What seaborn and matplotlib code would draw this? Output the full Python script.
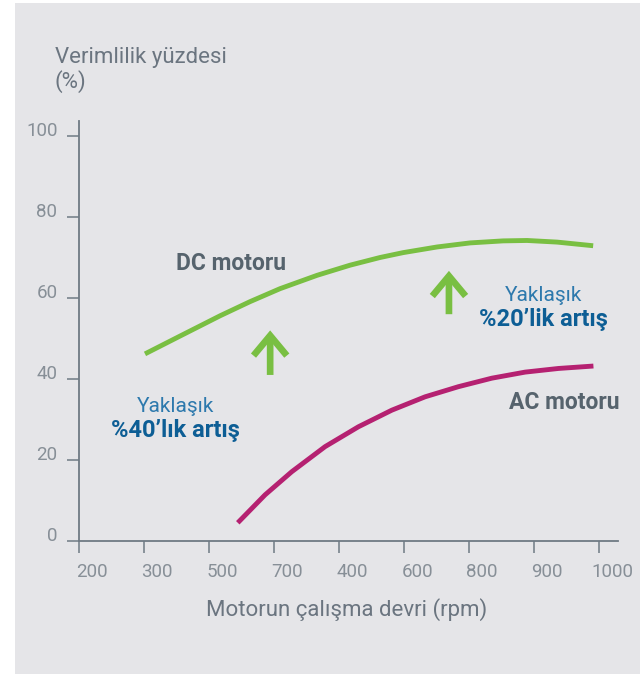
import matplotlib.pyplot as plt
import pandas as pd
import seaborn as sns
from matplotlib.transforms import ScaledTranslation
from matplotlib.patches import Rectangle

# tick labels as printed (the axis is categorical, not numeric)
RPM_LABELS = ["200", "300", "500", "700", "400", "600", "800", "900", "1000"]
Y_TICKS = [0, 20, 40, 60, 80, 100]

# curves, x in category-slot units
DC_X = [1.015, 1.554, 2.169, 2.631, 3.092, 3.662, 4.169, 4.631, 4.985, 5.508, 6.015, 6.523,
        6.892, 7.354, 7.908]
DC_Y = [46.2, 50.6, 55.6, 59.1, 62.3, 65.6, 68.1, 70.0, 71.2, 72.6, 73.6, 74.1, 74.2, 73.8,
        72.9]
AC_X = [2.442, 2.862, 3.272, 3.785, 4.297, 4.811, 5.323, 5.835, 6.349, 6.862, 7.374, 7.912]
AC_Y = [4.5, 11.4, 17.1, 23.3, 28.2, 32.3, 35.6, 38.1, 40.2, 41.7, 42.6, 43.2]

# increase arrows: x, y_base, y_tip
ARROWS = [(2.94, 41.0, 52.0), (5.69, 56.0, 66.7)]

BG = "#e5e5e8"
AXIS_GRAY = "#6f7a84"
GREEN = "#79bf42"
MAGENTA = "#b52171"
BLUE_LIGHT = "#2d79ad"
BLUE_DARK = "#0d5e95"
LABEL_DARK = "#56636d"

sns.set_theme(style="ticks")
plt.rcParams["font.family"] = ["Roboto", "DejaVu Sans"]

fig = plt.figure(figsize=(6.4, 6.74), dpi=100, facecolor="white")
fig.patches.append(Rectangle((15 / 640, 0), 1, 1 - 3 / 674, transform=fig.transFigure,
                             facecolor=BG, edgecolor="none", zorder=-10))
ax = fig.add_axes([79 / 640, 133 / 674, 539 / 640, 420 / 674])
ax.set_facecolor("none")

curves = pd.concat([
    pd.DataFrame({"x": DC_X, "y": DC_Y, "motor": "DC"}),
    pd.DataFrame({"x": AC_X, "y": AC_Y, "motor": "AC"}),
])
sns.lineplot(data=curves, x="x", y="y", hue="motor", palette={"DC": GREEN, "AC": MAGENTA},
             linewidth=3.5, sort=False, legend=False, ax=ax,
             solid_capstyle="butt", solid_joinstyle="round")

for x, y0, y1 in ARROWS:
    ax.annotate("", xy=(x, y1), xytext=(x, y0),
                arrowprops=dict(arrowstyle="->,head_length=1.2,head_width=1.0",
                                mutation_scale=12, color=GREEN, lw=4.8,
                                shrinkA=0, shrinkB=0, joinstyle="miter", capstyle="butt"))

ax.set_xlim(0, 8.29)
ax.set_ylim(0, 103.7)
ax.set_xticks(range(len(RPM_LABELS)))
ax.set_xticklabels(RPM_LABELS)
ax.set_yticks(Y_TICKS)
ax.set_xlabel("")
ax.set_ylabel("")

for side in ["top", "right"]:
    ax.spines[side].set_visible(False)
for side in ["left", "bottom"]:
    ax.spines[side].set_color(AXIS_GRAY)
    ax.spines[side].set_linewidth(1.3)
ax.tick_params(axis="both", colors=AXIS_GRAY, length=8.5, width=1.1, labelsize=13.5,
               labelcolor="#878f97")
ax.tick_params(axis="x", pad=7)
ax.tick_params(axis="y", pad=7)

for lab in ax.get_xticklabels():
    lab.set_transform(lab.get_transform() + ScaledTranslation(0.13, 0, fig.dpi_scale_trans))
for lab in ax.get_yticklabels():
    lab.set_transform(lab.get_transform() + ScaledTranslation(0, 0.07, fig.dpi_scale_trans))

fig.text(55 / 640, 1 - 57 / 674, "Verimlilik yüzdesi", color="#6b7580", fontsize=16,
         ha="left", va="center")
fig.text(55 / 640, 1 - 82 / 674, "(%)", color="#6b7580", fontsize=16, ha="left", va="center")
fig.text(347 / 640, 1 - 610 / 674, "Motorun çalışma devri (rpm)", color="#6b7580",
         fontsize=16, ha="center", va="center")

ax.text(2.34, 68.6, "DC motoru", color=LABEL_DARK, fontsize=16.5, fontweight="bold",
        ha="center", va="center")
ax.text(7.46, 34.3, "AC motoru", color=LABEL_DARK, fontsize=16.5, fontweight="bold",
        ha="center", va="center")

ax.text(1.49, 33.1, "Yaklaşık", color=BLUE_LIGHT, fontsize=15, ha="center", va="center")
ax.text(1.49, 27.2, "%40’lık artış", color=BLUE_DARK, fontsize=17, fontweight="bold",
        ha="center", va="center")
ax.text(7.14, 60.5, "Yaklaşık", color=BLUE_LIGHT, fontsize=15, ha="center", va="center")
ax.text(7.14, 54.8, "%20’lik artış", color=BLUE_DARK, fontsize=17, fontweight="bold",
        ha="center", va="center")

fig.savefig("out.png", dpi=100, facecolor="white")
